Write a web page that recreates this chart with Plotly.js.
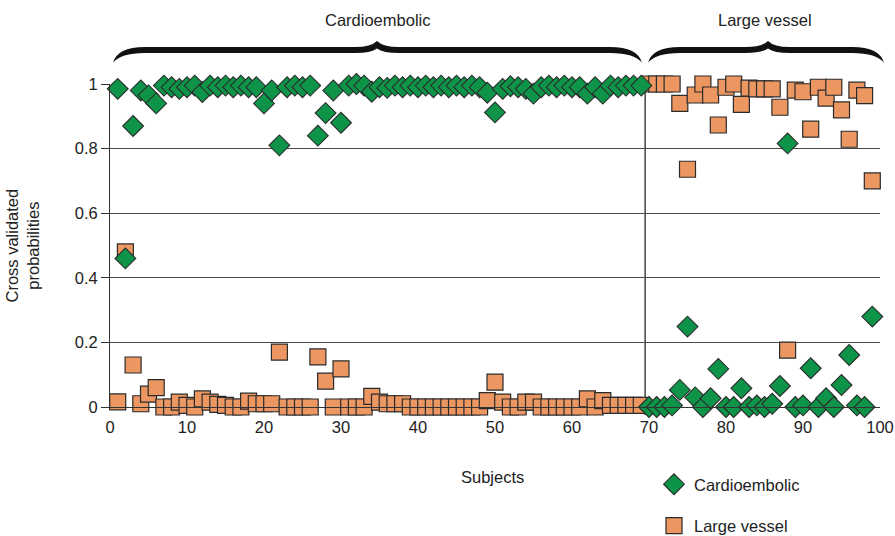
<!DOCTYPE html>
<html>
<head>
<meta charset="utf-8">
<script src="https://cdn.plot.ly/plotly-3.0.1.min.js"></script>
<style>html,body{margin:0;padding:0;background:#fff;}#chart{width:895px;height:536px;}</style>
</head>
<body>
<div id="chart"></div>
<script>
// ---- data ----
const subjects = [1,2,3,4,5,6,7,8,9,10,11,12,13,14,15,16,17,18,19,20,21,22,23,24,25,26,27,28,29,30,
  31,32,33,34,35,36,37,38,39,40,41,42,43,44,45,46,47,48,49,50,51,52,53,54,55,56,57,58,59,60,
  61,62,63,64,65,66,67,68,69,70,71,72,73,74,75,76,77,78,79,80,81,82,83,84,85,86,87,88,89,90,
  91,92,93,94,95,96,97,98,99];
const groupNames = ["Cardioembolic", "Large vessel"];
const groupSplit = 69.5; // last cardioembolic subject = 69

// probability of cardioembolic (green diamonds)
const probCardio = [0.985,0.46,0.87,0.98,0.965,0.94,0.995,0.99,0.985,0.99,
  0.995,0.975,0.995,0.99,0.995,0.99,0.995,0.99,0.99,0.94,
  0.98,0.81,0.99,0.995,0.99,0.995,0.84,0.91,0.98,0.88,
  0.995,1.0,0.995,0.976,0.99,0.988,0.995,0.99,0.995,0.99,
  0.995,0.99,0.995,0.99,0.995,0.99,0.995,0.99,0.973,0.912,
  0.985,0.993,0.99,0.985,0.97,0.99,0.995,0.99,0.995,0.99,
  0.99,0.97,0.99,0.97,0.995,0.99,0.995,0.995,0.995,
  0.0,0.0,0.0,0.005,0.053,0.249,0.03,0.0,0.027,0.118,
  0.0,0.0,0.058,0.0,0.005,0.0,0.01,0.065,0.816,0.0,
  0.005,0.12,0.0,0.027,0.0,0.068,0.161,0.005,0.0,0.28];

// probability of large vessel (orange squares)
const probLarge = [0.016,0.48,0.13,0.01,0.04,0.06,0.0,0.0,0.015,0.005,
  0.0,0.025,0.015,0.008,0.005,0.0,0.0,0.018,0.01,0.01,
  0.01,0.17,0.0,0.0,0.0,0.0,0.155,0.08,0.0,0.118,
  0.0,0.0,0.0,0.033,0.015,0.01,0.01,0.01,0.0,0.0,
  0.0,0.0,0.0,0.0,0.0,0.0,0.0,0.0,0.02,0.077,
  0.015,0.0,0.0,0.015,0.015,0.0,0.0,0.0,0.0,0.0,
  0.0,0.025,0.0,0.02,0.005,0.005,0.005,0.005,0.005,
  1.0,1.0,1.0,1.0,0.94,0.736,0.966,1.0,0.966,0.873,
  0.99,1.0,0.937,0.987,0.985,0.985,0.985,0.928,0.176,0.981,
  0.976,0.86,0.99,0.956,0.99,0.92,0.829,0.981,0.964,0.70];

const xTicks = [0,10,20,30,40,50,60,70,80,90,100];
const yTicks = [0,0.2,0.4,0.6,0.8,1];
const yTickText = ["0","0.2","0.4","0.6","0.8","1"];

// ---- layout helpers ----
const W = 895, H = 536;
const M = {l:110, r:15, t:84, b:129, autoexpand: false};
const PW = W - M.l - M.r, PH = H - M.t - M.b;
const xRange = [0, 100];
const px2x = p => (p - M.l) / PW;          // pixel -> paper x
const py2y = p => (M.t + PH - p) / PH;     // pixel -> paper y
const FONT = "'Liberation Sans', Arial, sans-serif";
const FS = 16.5;

function bracePath(x0, x1, xm) {
  const yEnd = 63, yT = 47, yB = 53, yTip = 41, yTipB = 48.5, b = 22;
  const P = (x, y) => px2x(x).toFixed(5) + ',' + py2y(y).toFixed(5);
  return 'M' + P(x0, yEnd) +
    ' Q' + P(x0 + 4, yT) + ' ' + P(x0 + 32, yT) +
    ' L' + P(xm - b, yT) +
    ' Q' + P(xm - 6, yT) + ' ' + P(xm, yTip) +
    ' Q' + P(xm + 6, yT) + ' ' + P(xm + b, yT) +
    ' L' + P(x1 - 32, yT) +
    ' Q' + P(x1 - 4, yT) + ' ' + P(x1, yEnd) +
    ' Q' + P(x1 - 7, yB) + ' ' + P(x1 - 32, yB) +
    ' L' + P(xm + b, yB) +
    ' Q' + P(xm + 6, yB) + ' ' + P(xm, yTipB) +
    ' Q' + P(xm - 6, yB) + ' ' + P(xm - b, yB) +
    ' L' + P(x0 + 32, yB) +
    ' Q' + P(x0 + 7, yB) + ' ' + P(x0, yEnd) + ' Z';
}

const traces = [
  {
    type: 'scatter', mode: 'markers', name: groupNames[1], legendgroup: 'lv', legendrank: 2,
    x: subjects, y: probLarge, cliponaxis: false,
    marker: {symbol: 'square', size: 16, color: '#ec9661', line: {color: '#2b2b2b', width: 1.2}}
  },
  {
    type: 'scatter', mode: 'markers', name: groupNames[0], legendgroup: 'ce', legendrank: 1,
    x: subjects, y: probCardio, cliponaxis: false,
    marker: {symbol: 'diamond', size: 16, color: '#0e9449', line: {color: '#2b2b2b', width: 1.1}}
  }
];

const sepX = (groupSplit - xRange[0]) / (xRange[1] - xRange[0]);
const ann = (text, x, y, extra) => Object.assign({
  text: text, xref: 'paper', yref: 'paper', x: x, y: y, xanchor: 'center', yanchor: 'middle',
  showarrow: false, font: {family: FONT, size: FS, color: '#222'}}, extra || {});

const layout = {
  width: W, height: H, margin: M,
  paper_bgcolor: '#ffffff', plot_bgcolor: 'rgba(0,0,0,0)',
  font: {family: FONT, size: FS, color: '#222'},
  showlegend: true,
  legend: {x: px2x(654), xanchor: 'left', y: py2y(467), yanchor: 'top',
           traceorder: 'grouped', tracegroupgap: 17,
           font: {family: FONT, size: FS, color: '#222'}, bgcolor: 'rgba(0,0,0,0)'},
  xaxis: {range: xRange, tickvals: xTicks, showgrid: false, zeroline: false,
          showline: true, linecolor: '#333', linewidth: 1, ticks: '',
          ticklabeloverflow: 'allow',
          ticklabelstandoff: 5, tickfont: {family: FONT, size: FS, color: '#222'}},
  yaxis: {range: [0, 1], tickvals: yTicks, ticktext: yTickText, showgrid: true,
          gridcolor: '#4a4a4a', gridwidth: 1.3, zeroline: false,
          showline: true, linecolor: '#333', linewidth: 1,
          ticks: 'outside', ticklen: 8, tickcolor: '#333',
          tickfont: {family: FONT, size: FS, color: '#222'}},
  shapes: [
    {type: 'line', xref: 'paper', yref: 'paper', x0: sepX, x1: sepX, y0: -0.025, y1: 1.01,
     line: {color: '#444', width: 1.5}, layer: 'below'},
    {type: 'path', xref: 'paper', yref: 'paper', path: bracePath(113, 642, 377),
     fillcolor: '#111', line: {width: 0}},
    {type: 'path', xref: 'paper', yref: 'paper', path: bracePath(648, 884, 768),
     fillcolor: '#111', line: {width: 0}}
  ],
  annotations: [
    ann(groupNames[0], px2x(377), py2y(20)),
    ann(groupNames[1], px2x(765), py2y(20)),
    ann('Cross validated<br>probabilities', px2x(22), 0.5, {textangle: -90}),
    ann('Subjects', px2x(492), py2y(477))
  ]
};

Plotly.newPlot('chart', traces, layout, {displayModeBar: false, staticPlot: true});
</script>
</body>
</html>
